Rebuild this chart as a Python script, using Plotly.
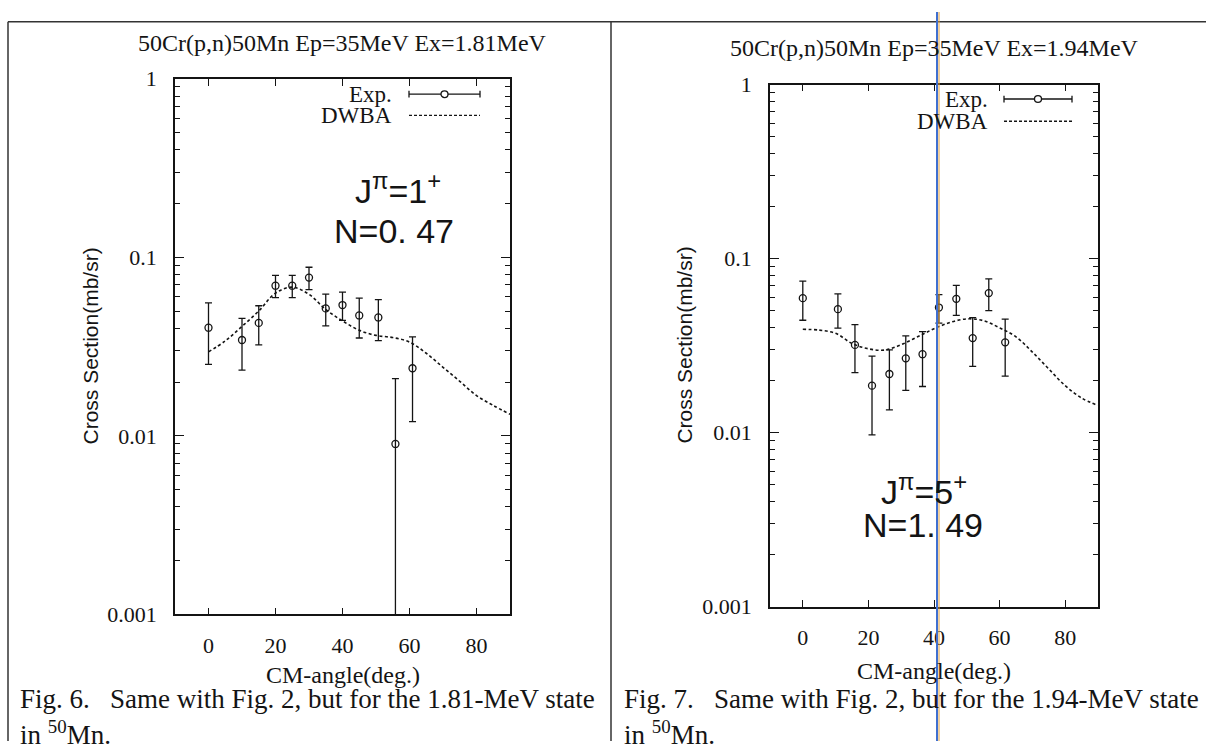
import plotly.graph_objects as go

W, H = 1206, 754

# ---- Fig. 6 : 50Cr(p,n)50Mn, Ex = 1.81 MeV ----
ang_181 = [0, 10, 15, 20, 25, 30, 35, 40, 45, 50.7, 55.8, 60.9]
xs_181 = [0.0403, 0.0344, 0.0429, 0.0693, 0.0693, 0.0769, 0.0517, 0.0540, 0.0472, 0.0460, 0.0090, 0.0239]
err_181 = [0.0152, 0.0111, 0.0106, 0.0099, 0.0099, 0.0110, 0.0104, 0.0097, 0.0119, 0.0119, 0.0119, 0.0119]
dwba_ang_181 = [0, 5, 10, 15, 20, 25, 30, 35, 40, 45, 50, 55, 60, 65, 70, 75, 80, 85, 90]
dwba_181 = [0.0295, 0.0340, 0.0410, 0.0500, 0.0630, 0.0680, 0.0620, 0.0510, 0.0440, 0.0390,
            0.0365, 0.0355, 0.0335, 0.0290, 0.0242, 0.0202, 0.0168, 0.0148, 0.0132]

# ---- Fig. 7 : 50Cr(p,n)50Mn, Ex = 1.94 MeV ----
ang_194 = [0, 10.7, 15.9, 21.1, 26.4, 31.4, 36.5, 41.5, 46.8, 51.8, 56.7, 61.7]
xs_194 = [0.0592, 0.0512, 0.0319, 0.0186, 0.0217, 0.0267, 0.0282, 0.0523, 0.0587, 0.0349, 0.0633, 0.0330]
err_194 = [0.0150, 0.0114, 0.0098, 0.0089, 0.0082, 0.0092, 0.0098, 0.0097, 0.0115, 0.0109, 0.0131, 0.0119]
dwba_ang_194 = [0, 5, 10, 15, 20, 25, 30, 35, 40, 45, 50, 55, 60, 65, 70, 75, 80, 85, 90]
dwba_194 = [0.0392, 0.0388, 0.0372, 0.0325, 0.0303, 0.0298, 0.0320, 0.0355, 0.0395, 0.0430,
            0.0450, 0.0440, 0.0400, 0.0355, 0.0290, 0.0232, 0.0186, 0.0158, 0.0143]

titles = ["50Cr(p,n)50Mn Ep=35MeV Ex=1.81MeV", "50Cr(p,n)50Mn Ep=35MeV Ex=1.94MeV"]
spin_labels = ["J<sup>\u03c0</sup>=1<sup>+</sup>", "J<sup>\u03c0</sup>=5<sup>+</sup>"]
norm_labels = ["N=0. 47", "N=1. 49"]
captions = ["Fig. 6.\u00a0\u00a0\u00a0Same with Fig. 2, but for the 1.81-MeV state",
            "Fig. 7.\u00a0\u00a0\u00a0Same with Fig. 2, but for the 1.94-MeV state"]
caption2 = "in <sup>50</sup>Mn."
x_ticks = [0, 20, 40, 60, 80]
y_ticks = [0.001, 0.01, 0.1, 1]
y_ticktext = ["0.001", "0.01", "0.1", "1"]
y_minor = [m * 10.0 ** e for e in (-3, -2, -1) for m in range(2, 10)]

SERIF = "Liberation Serif, Times New Roman, serif"
SANS = "Liberation Sans, Arial, sans-serif"
INK = "#141414"

# plot boxes in pixels: (left, right, top, bottom)
boxes = [(175, 510, 69, 623), (770, 1098, 75, 615)]

fig = go.Figure()
panels = [
    (ang_181, xs_181, err_181, dwba_ang_181, dwba_181),
    (ang_194, xs_194, err_194, dwba_ang_194, dwba_194),
]

annotations = []
shapes = []

for i, (ang, xs, err, dang, dw) in enumerate(panels):
    sfx = "" if i == 0 else "2"
    xa, ya = "x" + sfx, "y" + sfx
    l, r, t, b = boxes[i]
    pw, ph = r - l, b - t

    fig.add_trace(go.Scatter(
        x=dang, y=dw, mode="lines", line=dict(color=INK, width=1.6, dash="3px,2.5px", shape="spline"),
        xaxis=xa, yaxis=ya, showlegend=False, hoverinfo="skip"))
    fig.add_trace(go.Scatter(
        x=ang, y=xs, mode="markers",
        marker=dict(symbol="circle-open", size=7, color=INK, line=dict(width=1.3, color=INK)),
        error_y=dict(type="data", array=err, symmetric=True, color=INK, thickness=1.3, width=3.5),
        xaxis=xa, yaxis=ya, showlegend=False))

    axis_common = dict(showline=True, linecolor=INK, linewidth=1.6, mirror="ticks", ticks="inside",
                       tickcolor=INK, tickwidth=1.2, showgrid=False, zeroline=False,
                       tickfont=dict(family=SERIF, size=22, color=INK))
    fig.update_layout(**{
        "xaxis" + sfx: dict(axis_common, domain=[l / W, r / W], range=[-10, 90], tickvals=x_ticks,
                            ticklen=7, anchor=ya, ticklabelstandoff=10),
        "yaxis" + sfx: dict(axis_common, type="log", domain=[1 - b / H, 1 - t / H], range=[-3, 0],
                            tickvals=y_ticks, ticktext=y_ticktext, ticklen=9, anchor=xa,
                            ticklabelstandoff=12,
                            minor=dict(tickvals=y_minor, ticks="inside", ticklen=5, tickwidth=1.1,
                                       tickcolor=INK, showgrid=False)),
    })

    cx = (l + r) / 2
    # panel title
    annotations.append(dict(xref="paper", yref="paper", x=cx / W, y=1 - (32 + 5 * i) / H,
                            text=titles[i], showarrow=False, xanchor="center", yanchor="middle",
                            font=dict(family=SERIF, size=24, color=INK)))
    # axis titles
    annotations.append(dict(xref="paper", yref="paper", x=cx / W, y=1 - (686 - 4 * i) / H,
                            text="CM-angle(deg.)", showarrow=False, xanchor="center", yanchor="middle",
                            font=dict(family=SERIF, size=24, color=INK)))
    annotations.append(dict(xref="paper", yref="paper", x=(91 + 594 * i) / W, y=1 - ((t + b) / 2) / H,
                            text="Cross Section(mb/sr)", showarrow=False, textangle=-90,
                            xanchor="center", yanchor="middle",
                            font=dict(family=SANS, size=21, color=INK)))

    # key: Exp. / DWBA
    dom_x = lambda px: (px - l) / pw
    dom_y = lambda py: (b - py) / ph
    key_right = 394 if i == 0 else 990
    key_y1 = 85 if i == 0 else 90
    key_y2 = 107 if i == 0 else 113
    s0, s1 = (409, 480) if i == 0 else (1004, 1072)
    for txt, ky in (("Exp.", key_y1), ("DWBA", key_y2)):
        annotations.append(dict(xref=xa + " domain", yref=ya + " domain", x=dom_x(key_right),
                                y=dom_y(ky), text=txt, showarrow=False, xanchor="right",
                                yanchor="middle", font=dict(family=SERIF, size=23, color=INK)))
    ref = dict(xref=xa + " domain", yref=ya + " domain")
    shapes.append(dict(ref, type="line", x0=dom_x(s0), x1=dom_x(s1), y0=dom_y(key_y1), y1=dom_y(key_y1),
                       line=dict(color=INK, width=1.3)))
    for sx in (s0, s1):
        shapes.append(dict(ref, type="line", x0=dom_x(sx), x1=dom_x(sx), y0=dom_y(key_y1 - 3.5),
                           y1=dom_y(key_y1 + 3.5), line=dict(color=INK, width=1.3)))
    mc = (s0 + s1) / 2
    shapes.append(dict(ref, type="circle", x0=dom_x(mc - 3.5), x1=dom_x(mc + 3.5),
                       y0=dom_y(key_y1 + 3.5), y1=dom_y(key_y1 - 3.5),
                       line=dict(color=INK, width=1.3), fillcolor="white"))
    shapes.append(dict(ref, type="line", x0=dom_x(s0), x1=dom_x(s1), y0=dom_y(key_y2), y1=dom_y(key_y2),
                       line=dict(color=INK, width=1.3, dash="3px,2px")))

    # spin / normalisation labels
    jx, jy, nx, ny = ((398, 183, 394, 227) if i == 0 else (924, 494, 923, 531))
    annotations.append(dict(xref=xa + " domain", yref=ya + " domain", x=dom_x(jx), y=dom_y(jy),
                            text=spin_labels[i], showarrow=False, xanchor="center", yanchor="middle",
                            font=dict(family=SANS, size=34, color=INK)))
    annotations.append(dict(xref=xa + " domain", yref=ya + " domain", x=dom_x(nx), y=dom_y(ny),
                            text=norm_labels[i], showarrow=False, xanchor="center", yanchor="middle",
                            font=dict(family=SANS, size=34, color=INK)))

    # captions
    annotations.append(dict(xref="paper", yref="paper", x=(18 + 604 * i) / W, y=1 - 711 / H,
                            text=captions[i], showarrow=False, xanchor="left", yanchor="middle",
                            font=dict(family=SERIF, size=27, color=INK)))
    annotations.append(dict(xref="paper", yref="paper", x=(18 + 604 * i) / W, y=1 - 746 / H,
                            text=caption2, showarrow=False, xanchor="left", yanchor="middle",
                            font=dict(family=SERIF, size=27, color=INK)))

# page rules
pg = dict(xref="paper", yref="paper")
shapes.append(dict(pg, type="line", x0=8 / W, x1=1, y0=1 - 10 / H, y1=1 - 10 / H, line=dict(color="#333", width=1.5)))
shapes.append(dict(pg, type="line", x0=8 / W, x1=8 / W, y0=0, y1=1 - 10 / H, line=dict(color="#333", width=1.5)))
shapes.append(dict(pg, type="line", x0=611 / W, x1=611 / W, y0=0, y1=1 - 10 / H, line=dict(color="#333", width=1.5)))
# scanner streak
shapes.append(dict(pg, type="line", x0=939 / W, x1=939 / W, y0=0, y1=1, line=dict(color="#e0a040", width=1)))
shapes.append(dict(pg, type="line", x0=937 / W, x1=937 / W, y0=0, y1=1, line=dict(color="#3f6fd0", width=2)))

fig.update_layout(width=W, height=H, margin=dict(l=0, r=0, t=0, b=0),
                  paper_bgcolor="white", plot_bgcolor="rgba(0,0,0,0)",
                  annotations=annotations, shapes=shapes, showlegend=False)

fig.write_html("out.html")
